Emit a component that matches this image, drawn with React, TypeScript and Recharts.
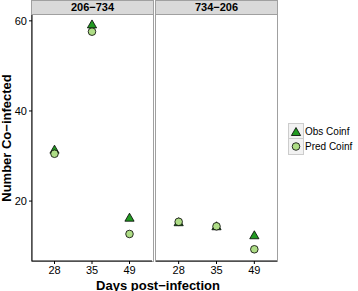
import React from "react";
import { ScatterChart, Scatter, XAxis, YAxis } from "recharts";

// facets, categories and values
const panels = ["206−734", "734−206"];
const days = ["28", "35", "49"];
const obsLeft = [31.3, 59.1, 16.2];
const predLeft = [30.5, 57.6, 12.7];
const obsRight = [15.2, 14.3, 12.3];
const predRight = [15.4, 14.4, 9.3];
const yTicks = [20, 40, 60];

const OBS = "#229a22";
const PRED = "#aedd86";
const FONT = "'Liberation Sans', Arial, sans-serif";

const toRows = (vals: number[]) => days.map((d, i) => ({ day: d, value: vals[i] }));

const Triangle = (props: any) => {
  const { cx, cy } = props;
  return (
    <polygon
      points={`${cx},${cy - 5} ${cx - 4.6},${cy + 3} ${cx + 4.6},${cy + 3}`}
      fill={OBS}
      stroke="#000"
      strokeWidth={0.8}
    />
  );
};

const Dot = (props: any) => {
  const { cx, cy } = props;
  return <circle cx={cx} cy={cy} r={3.8} fill={PRED} stroke="#000" strokeWidth={0.8} />;
};

const tick = { fontSize: 11, fill: "#000", fontFamily: FONT };

const Panel = ({ obs, pred, showY, width }: { obs: number[]; pred: number[]; showY: boolean; width: number }) => (
  <ScatterChart width={width} height={291} margin={{ top: 15, right: 0, bottom: 0, left: 0 }}>
    <XAxis
      type="category"
      dataKey="day"
      allowDuplicatedCategory={false}
      height={30}
      padding={{ left: 3.75, right: 3.75 }}
      tick={tick}
      tickSize={3}
      axisLine={{ stroke: "#000" }}
      tickLine={{ stroke: "#000" }}
    />
    <YAxis
      type="number"
      dataKey="value"
      domain={[6.7, 61.3]}
      ticks={yTicks}
      hide={!showY}
      width={32}
      tick={tick}
      tickSize={3}
      axisLine={{ stroke: "#000" }}
      tickLine={{ stroke: "#000" }}
    />
    <Scatter data={toRows(obs)} shape={<Triangle />} isAnimationActive={false} />
    <Scatter data={toRows(pred)} shape={<Dot />} isAnimationActive={false} />
  </ScatterChart>
);

const strip = (left: number, label: string) => (
  <div
    key={label}
    style={{
      position: "absolute",
      left,
      top: 0,
      width: 123,
      height: 15,
      boxSizing: "border-box",
      background: "#d9d9d9",
      border: "1px solid #a0a0a0",
      fontFamily: FONT,
      fontWeight: "bold",
      fontSize: 11,
      lineHeight: "13px",
      textAlign: "center",
    }}
  >
    {label}
  </div>
);

const frame = (left: number) => (
  <div
    style={{
      position: "absolute",
      left,
      top: 14,
      width: 123,
      height: 248,
      boxSizing: "border-box",
      border: "1px solid #a0a0a0",
    }}
  />
);

const keyBox = (top: number, icon: React.ReactNode, label: string) => (
  <div style={{ position: "absolute", left: 289, top, height: 15, display: "flex", alignItems: "center" }}>
    <svg width={14} height={15} style={{ background: "#f2f2f2", outline: "1px solid #cccccc" }}>
      {icon}
    </svg>
    <span style={{ marginLeft: 2, fontFamily: FONT, fontSize: 10 }}>{label}</span>
  </div>
);

export default function App() {
  return (
    <div style={{ position: "absolute", left: 0, top: 0, width: 358, height: 291, background: "#fff", overflow: "hidden" }}>
      {frame(31)}
      {frame(155)}
      {strip(31, panels[0])}
      {strip(155, panels[1])}
      <div style={{ position: "absolute", left: 0, top: 0 }}>
        <Panel obs={obsLeft} pred={predLeft} showY width={152} />
      </div>
      <div style={{ position: "absolute", left: 156, top: 0 }}>
        <Panel obs={obsRight} pred={predRight} showY={false} width={121} />
      </div>
      <div
        style={{
          position: "absolute",
          left: 6,
          top: 138,
          transform: "translate(-50%, -50%) rotate(-90deg)",
          whiteSpace: "nowrap",
          fontFamily: FONT,
          fontWeight: "bold",
          fontSize: 13,
        }}
      >
        Number Co−infected
      </div>
      <div
        style={{
          position: "absolute",
          left: 158,
          top: 285,
          transform: "translate(-50%, -50%)",
          whiteSpace: "nowrap",
          fontFamily: FONT,
          fontWeight: "bold",
          fontSize: 13,
        }}
      >
        Days post−infection
      </div>
      {keyBox(124, <Triangle cx={7} cy={8.5} />, "Obs Coinf")}
      {keyBox(139, <Dot cx={7} cy={7.5} />, "Pred Coinf")}
    </div>
  );
}
